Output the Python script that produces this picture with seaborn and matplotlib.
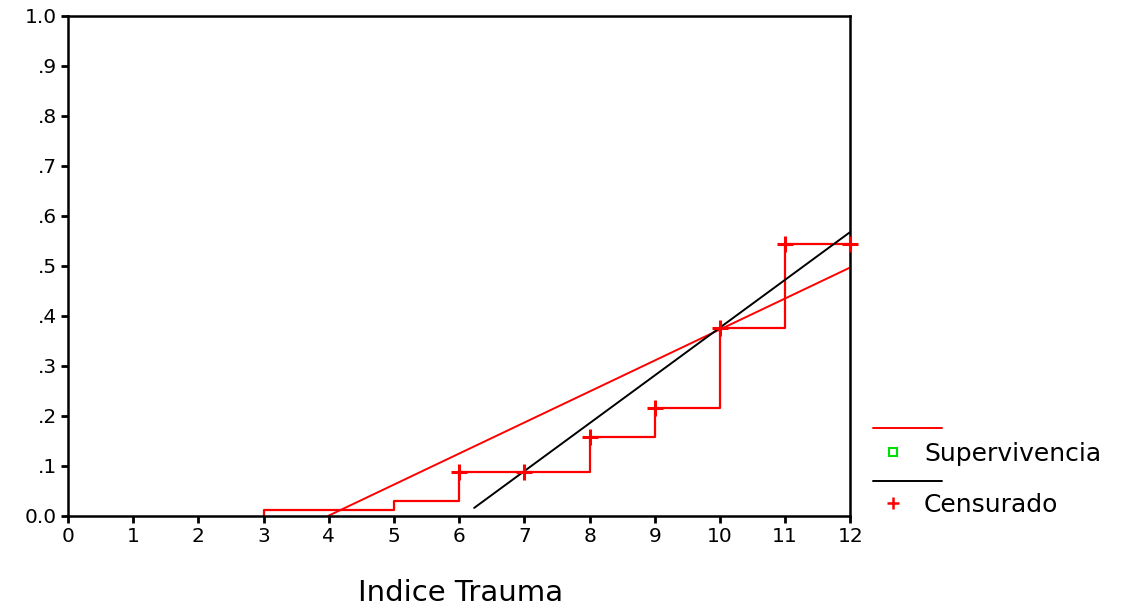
import matplotlib
matplotlib.use("Agg")
import matplotlib.pyplot as plt
import seaborn as sns
import pandas as pd
from matplotlib.lines import Line2D

# Kaplan-Meier cumulative curve (steps)
step_x = [3, 3, 5, 6, 7, 8, 9, 10, 11, 12]
step_y = [0.0, 0.012, 0.030, 0.088, 0.088, 0.158, 0.216, 0.376, 0.544, 0.544]

# censored points
cens_x = [6, 7, 8, 9, 10, 11, 12]
cens_y = [0.088, 0.088, 0.158, 0.216, 0.376, 0.544, 0.544]

# fitted lines
red_fit_x = [3.99, 12]
red_fit_y = [0.0, 0.497]
black_fit_x = [6.23, 12]
black_fit_y = [0.016, 0.568]

x_ticks = list(range(0, 13))
y_ticks = [0.0, 0.1, 0.2, 0.3, 0.4, 0.5, 0.6, 0.7, 0.8, 0.9, 1.0]
y_labels = ["0.0", ".1", ".2", ".3", ".4", ".5", ".6", ".7", ".8", ".9", "1.0"]

sns.set_style("white")
plt.rcParams["font.family"] = ["DejaVu Sans"]
plt.rcParams["text.color"] = "black"
plt.rcParams["xtick.color"] = "black"
plt.rcParams["ytick.color"] = "black"

fig = plt.figure(figsize=(11.29, 6.12), dpi=100)
ax = fig.add_axes([0.0602, 0.157, 0.693, 0.817])

df_step = pd.DataFrame({"x": step_x, "y": step_y})
sns.lineplot(data=df_step, x="x", y="y", drawstyle="steps-post", estimator=None,
             sort=False, color="red", linewidth=1.6, ax=ax)
sns.lineplot(x=red_fit_x, y=red_fit_y, color="red", linewidth=1.4, ax=ax)
sns.lineplot(x=black_fit_x, y=black_fit_y, color="black", linewidth=1.4, ax=ax)
sns.scatterplot(x=cens_x, y=cens_y, marker="+", color="red", s=130,
                linewidth=2.2, ax=ax, zorder=5, clip_on=False)

ax.set_xlim(0, 12)
ax.set_ylim(0, 1)
ax.set_xticks(x_ticks)
ax.set_xticklabels([str(t) for t in x_ticks], fontsize=14.5)
ax.set_yticks(y_ticks)
ax.set_yticklabels(y_labels, fontsize=14.5)
ax.tick_params(direction="out", length=5, width=2, color="black", labelcolor="black",
               pad=3, bottom=True, left=True)
for sp in ax.spines.values():
    sp.set_visible(True)
    sp.set_color("black")
    sp.set_linewidth(1.8)
ax.set_xlabel("")
ax.set_ylabel("")
fig.text(0.408, 0.008, "Indice Trauma", fontsize=21, ha="center", va="bottom")

# legend (SPSS style)
def fx(px):
    return px / 1129

def fy(py):
    return 1 - py / 612

fig.add_artist(Line2D([fx(873), fx(942)], [fy(428), fy(428)], color="red", lw=1.4))
fig.add_artist(Line2D([fx(893)], [fy(452)], marker="s", markersize=6, markerfacecolor="none",
                      markeredgecolor="#00dd00", markeredgewidth=1.5, linestyle="none"))
fig.text(fx(924), fy(454), "Supervivencia", fontsize=18, va="center")
fig.add_artist(Line2D([fx(873), fx(942)], [fy(481), fy(481)], color="black", lw=1.4))
fig.add_artist(Line2D([fx(893)], [fy(503)], marker="+", markersize=9, color="red",
                      markeredgewidth=1.8, linestyle="none"))
fig.text(fx(924), fy(505), "Censurado", fontsize=18, va="center")

fig.savefig("out.png", dpi=100)
